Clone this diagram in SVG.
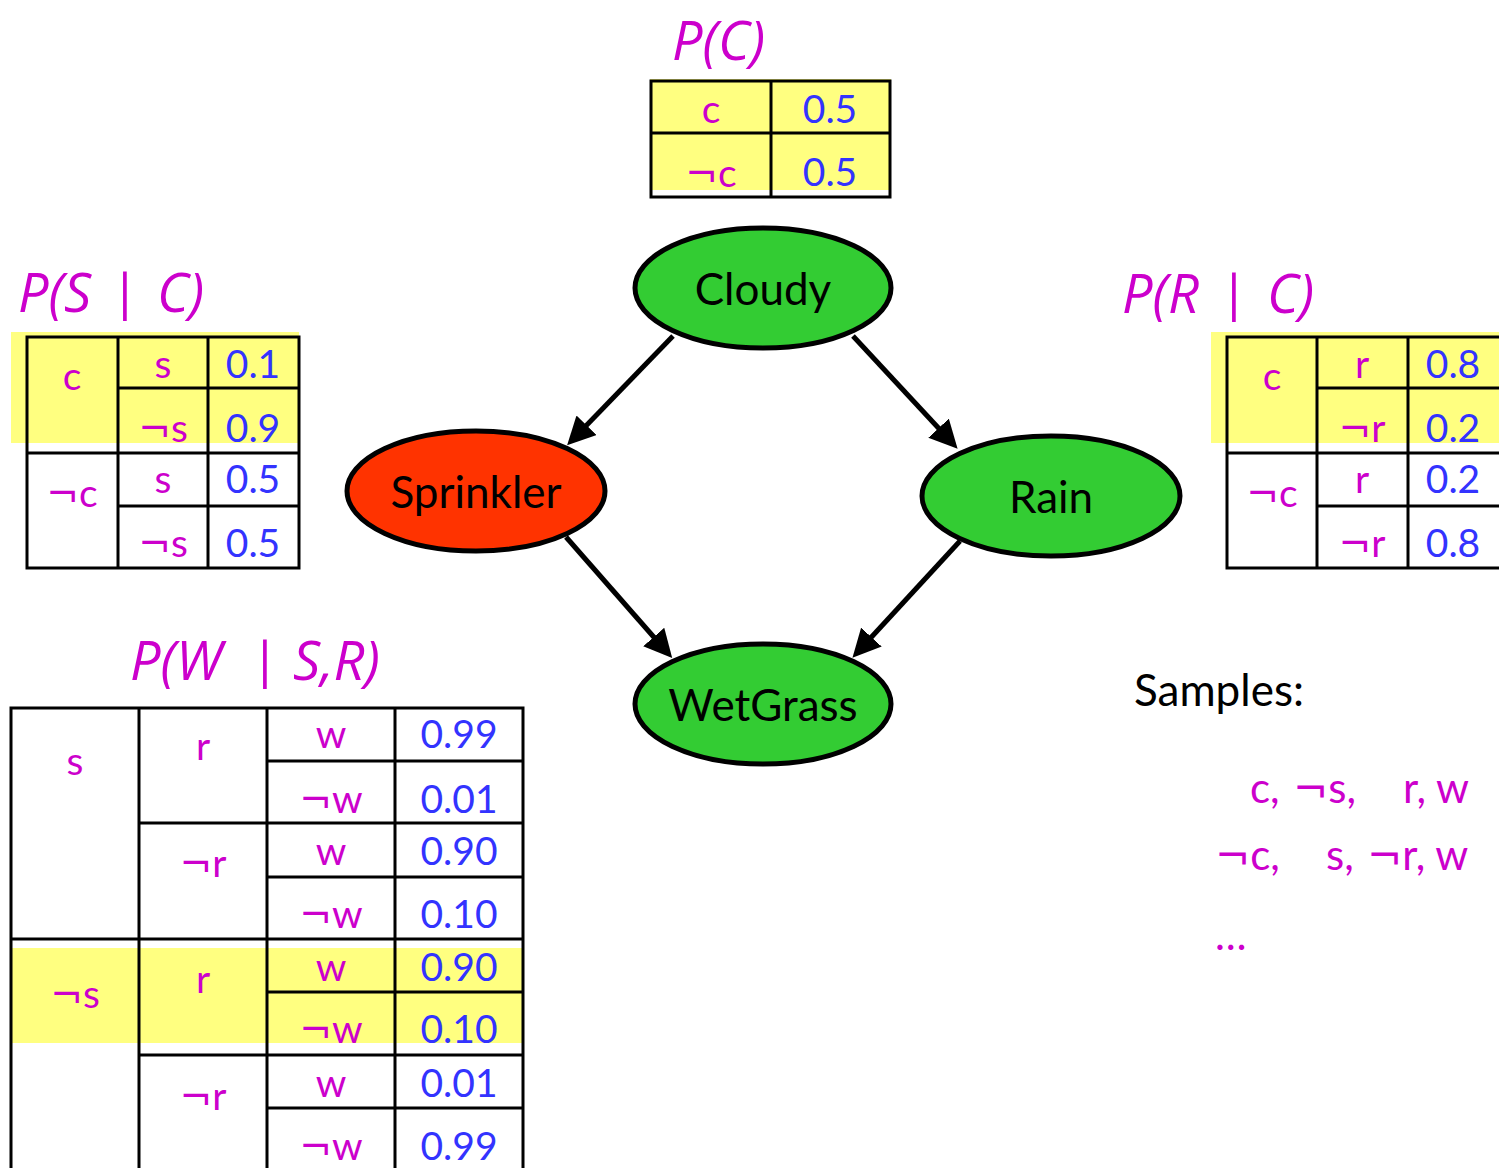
<svg xmlns="http://www.w3.org/2000/svg" width="1499" height="1168" viewBox="0 0 1499 1168">
<style>
text { font-family: Lato, "Open Sans", "Noto Sans", sans-serif; }
.m { fill:#CC00CC; font-size:39px; text-anchor:middle; }
.b { fill:#3333FF; font-size:39px; text-anchor:middle; }
.ttl { fill:#CC00CC; font-size:54px; font-style:italic; font-family:"Open Sans", Lato, sans-serif; }
.bar { fill:#CC00CC; font-size:53px; text-anchor:middle; }
.n { font-family:"DejaVu Sans", sans-serif; font-size:1em; }
.yel { fill:#FFFF80; }
.grid { stroke:#000; stroke-width:3; fill:none; }
.node ellipse { stroke:#000; stroke-width:5; }
.nl { font-size:44px; fill:#000; text-anchor:middle; }
.edge { stroke:#000; stroke-width:5; fill:none; marker-end:url(#arr); }
.smp { fill:#CC00CC; font-size:42px; }
</style>
<defs>
<marker id="arr" viewBox="0 0 28 28" refX="8" refY="14" markerWidth="28" markerHeight="28" markerUnits="userSpaceOnUse" orient="auto">
<path d="M0,0 L28,14 L0,28 z" fill="#000"/>
</marker>
</defs>
<rect width="1499" height="1168" fill="#fff"/>

<g id="cpt-c">
<text class="ttl" x="672" y="60">P(C)</text>
<rect class="yel" x="650" y="79" width="241" height="111"/>
<rect class="grid" x="651" y="81" width="239" height="116"/>
<line class="grid" x1="771" y1="81" x2="771" y2="197"/>
<line class="grid" x1="651" y1="133" x2="890" y2="133"/>
<text class="m" x="711" y="123">c</text>
<text class="b" x="830" y="123">0.5</text>
<text class="m" x="711" y="187"><tspan class="n">¬</tspan>c</text>
<text class="b" x="830" y="186">0.5</text>
</g>

<g id="cpt-s">
<text class="ttl" x="18" y="312">P(S</text>
<text class="bar" x="125" y="312">|</text>
<text class="ttl" x="157" y="312">C)</text>
<rect class="yel" x="11" y="332" width="288" height="111"/>
<rect class="grid" x="27" y="337" width="272" height="231"/>
<line class="grid" x1="118" y1="337" x2="118" y2="568"/>
<line class="grid" x1="208" y1="337" x2="208" y2="568"/>
<line class="grid" x1="27" y1="453" x2="299" y2="453"/>
<line class="grid" x1="118" y1="388" x2="299" y2="388"/>
<line class="grid" x1="118" y1="506" x2="299" y2="506"/>
<text class="m" x="72" y="390">c</text>
<text class="m" x="163" y="378">s</text>
<text class="b" x="253" y="378">0.1</text>
<text class="m" x="163" y="442"><tspan class="n">¬</tspan>s</text>
<text class="b" x="253" y="442">0.9</text>
<text class="m" x="72" y="507"><tspan class="n">¬</tspan>c</text>
<text class="m" x="163" y="493">s</text>
<text class="b" x="253" y="493">0.5</text>
<text class="m" x="163" y="557"><tspan class="n">¬</tspan>s</text>
<text class="b" x="253" y="557">0.5</text>
</g>

<g id="cpt-r">
<text class="ttl" x="1122" y="313">P(R</text>
<text class="bar" x="1234" y="313">|</text>
<text class="ttl" x="1267" y="313">C)</text>
<rect class="yel" x="1211" y="332" width="288" height="111"/>
<polyline class="grid" points="1501,337 1227,337 1227,568 1501,568"/>
<line class="grid" x1="1317" y1="337" x2="1317" y2="568"/>
<line class="grid" x1="1408" y1="337" x2="1408" y2="568"/>
<line class="grid" x1="1227" y1="453" x2="1501" y2="453"/>
<line class="grid" x1="1317" y1="388" x2="1501" y2="388"/>
<line class="grid" x1="1317" y1="506" x2="1501" y2="506"/>
<text class="m" x="1272" y="390">c</text>
<text class="m" x="1362" y="378">r</text>
<text class="b" x="1453" y="378">0.8</text>
<text class="m" x="1362" y="442"><tspan class="n">¬</tspan>r</text>
<text class="b" x="1453" y="442">0.2</text>
<text class="m" x="1272" y="507"><tspan class="n">¬</tspan>c</text>
<text class="m" x="1362" y="493">r</text>
<text class="b" x="1453" y="493">0.2</text>
<text class="m" x="1362" y="557"><tspan class="n">¬</tspan>r</text>
<text class="b" x="1453" y="557">0.8</text>
</g>

<g id="cpt-w">
<text class="ttl" x="130" y="680">P(W</text>
<text class="bar" x="265" y="680">|</text>
<text class="ttl" x="293" y="680">S,R)</text>
<rect class="yel" x="11" y="948" width="512" height="95"/>
<polyline class="grid" points="11,1170 11,708 523,708 523,1170"/>
<line class="grid" x1="139" y1="708" x2="139" y2="1170"/>
<line class="grid" x1="267" y1="708" x2="267" y2="1170"/>
<line class="grid" x1="395" y1="708" x2="395" y2="1170"/>
<line class="grid" x1="267" y1="761" x2="523" y2="761"/>
<line class="grid" x1="139" y1="823" x2="523" y2="823"/>
<line class="grid" x1="267" y1="877" x2="523" y2="877"/>
<line class="grid" x1="11" y1="939" x2="523" y2="939"/>
<line class="grid" x1="267" y1="992" x2="523" y2="992"/>
<line class="grid" x1="139" y1="1055" x2="523" y2="1055"/>
<line class="grid" x1="267" y1="1108" x2="523" y2="1108"/>
<text class="m" x="75" y="775">s</text>
<text class="m" x="203" y="760">r</text>
<text class="m" x="331" y="748">w</text>
<text class="b" x="459" y="748">0.99</text>
<text class="m" x="331" y="813"><tspan class="n">¬</tspan>w</text>
<text class="b" x="459" y="813">0.01</text>
<text class="m" x="203" y="877"><tspan class="n">¬</tspan>r</text>
<text class="m" x="331" y="865">w</text>
<text class="b" x="459" y="865">0.90</text>
<text class="m" x="331" y="928"><tspan class="n">¬</tspan>w</text>
<text class="b" x="459" y="928">0.10</text>
<text class="m" x="75" y="1008"><tspan class="n">¬</tspan>s</text>
<text class="m" x="203" y="993">r</text>
<text class="m" x="331" y="981">w</text>
<text class="b" x="459" y="981">0.90</text>
<text class="m" x="331" y="1043"><tspan class="n">¬</tspan>w</text>
<text class="b" x="459" y="1043">0.10</text>
<text class="m" x="203" y="1110"><tspan class="n">¬</tspan>r</text>
<text class="m" x="331" y="1097">w</text>
<text class="b" x="459" y="1097">0.01</text>
<text class="m" x="331" y="1160"><tspan class="n">¬</tspan>w</text>
<text class="b" x="459" y="1160">0.99</text>
</g>

<g id="node-cloudy" class="node">
<ellipse cx="763" cy="288" rx="128" ry="60" fill="#33CC33"/>
<text class="nl" x="763" y="305">Cloudy</text>
</g>
<g id="node-sprinkler" class="node">
<ellipse cx="476" cy="491" rx="129" ry="60" fill="#FF3300"/>
<text class="nl" x="476" y="508">Sprinkler</text>
</g>
<g id="node-rain" class="node">
<ellipse cx="1051" cy="496" rx="129" ry="60" fill="#33CC33"/>
<text class="nl" x="1051" y="513">Rain</text>
</g>
<g id="node-wetgrass" class="node">
<ellipse cx="763" cy="704" rx="128" ry="60" fill="#33CC33"/>
<text class="nl" x="763" y="721">WetGrass</text>
</g>

<g id="connectors">
<line class="edge" x1="673" y1="336" x2="581" y2="431"/>
<line class="edge" x1="853" y1="336" x2="944" y2="434"/>
<line class="edge" x1="566" y1="537" x2="659" y2="643"/>
<line class="edge" x1="960" y1="541" x2="866" y2="643"/>
</g>

<g id="samples">
<text x="1134" y="706" font-size="44" fill="#000">Samples:</text>
<text class="smp" x="1250" y="803">c,</text>
<text class="smp" x="1293" y="803"><tspan class="n">¬</tspan>s,</text>
<text class="smp" x="1403" y="803">r, w</text>
<text class="smp" x="1215" y="870"><tspan class="n">¬</tspan>c,</text>
<text class="smp" x="1326" y="870">s,</text>
<text class="smp" x="1367" y="870"><tspan class="n">¬</tspan>r, w</text>
<text class="smp" x="1215" y="950">…</text>
</g>
</svg>
